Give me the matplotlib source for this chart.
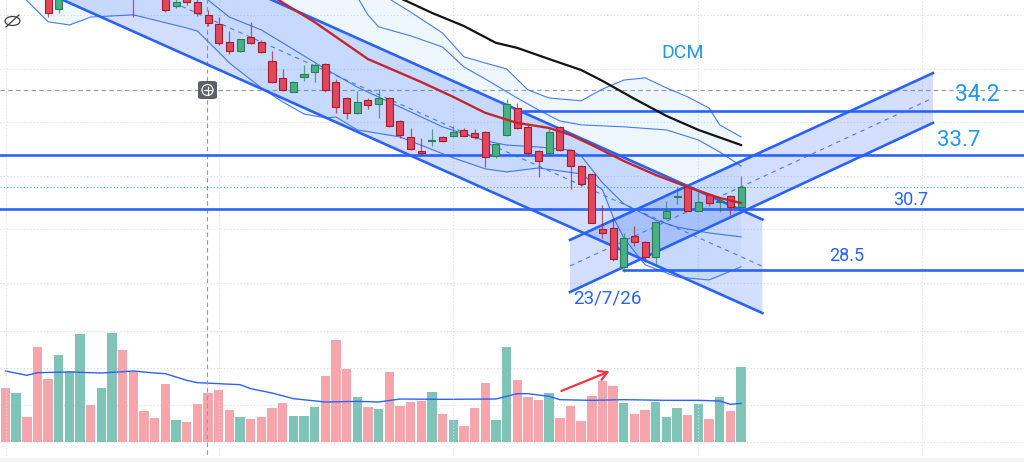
import numpy as np
import matplotlib.pyplot as plt
from matplotlib.patches import Rectangle, FancyBboxPatch, Ellipse

# --- candles (price units, one per bar) ---
opens = [39.40, 38.95, 39.30, 38.90, 38.45, 37.83, 38.30, 38.80, 39.20, 38.80,
         39.10, 39.50, 38.90, 38.40, 38.50, 38.34, 37.96, 38.23, 38.08, 37.62,
         37.29, 36.67, 36.35, 36.85, 36.67, 35.99, 35.36, 34.89, 35.40, 35.58,
         35.86, 35.22, 34.65, 34.11, 34.59, 34.44, 34.65, 33.84, 33.28, 32.74,
         33.11, 33.28, 33.31, 33.52, 33.40, 33.44, 32.59, 33.34, 34.29, 33.64,
         32.78, 32.69, 33.61, 32.80, 32.24, 31.94, 29.97, 30.01, 28.62, 29.74,
         29.51, 28.99, 30.39, 31.11, 31.49, 30.64, 31.20, 30.93, 31.16, 30.78]
highs = [39.60, 39.50, 39.50, 39.10, 38.60, 38.45, 38.90, 39.30, 39.30, 39.20,
         39.60, 39.60, 39.00, 38.50, 38.70, 38.45, 38.20, 38.30, 38.23, 37.80,
         37.54, 37.06, 36.78, 37.39, 36.73, 36.34, 35.69, 35.27, 35.84, 35.92,
         35.92, 35.34, 34.70, 34.92, 34.67, 34.97, 34.70, 33.87, 33.58, 33.22,
         33.55, 33.32, 33.66, 33.58, 33.55, 33.48, 33.04, 34.61, 34.49, 33.76,
         32.82, 33.64, 33.66, 32.84, 32.27, 31.96, 30.84, 30.37, 29.85, 30.09,
         29.56, 30.28, 30.98, 31.49, 31.55, 31.32, 31.23, 31.14, 31.20, 31.88]
lows = [38.90, 38.80, 38.70, 38.30, 37.55, 37.70, 38.20, 38.60, 38.70, 38.60,
        38.90, 38.80, 37.55, 38.20, 38.20, 37.73, 37.86, 37.99, 37.60, 37.23,
        36.55, 36.23, 36.32, 36.59, 36.27, 35.20, 34.91, 34.86, 35.27, 35.22,
        34.89, 34.13, 33.91, 34.09, 34.27, 33.94, 33.63, 33.22, 32.80, 32.63,
        32.95, 33.09, 33.26, 33.29, 33.19, 32.19, 32.51, 33.30, 33.54, 32.64,
        31.85, 32.63, 32.77, 31.40, 31.53, 30.18, 29.67, 28.85, 28.46, 29.38,
        28.81, 28.73, 30.34, 30.88, 30.61, 30.61, 30.80, 30.60, 30.48, 30.75]
closes = [39.00, 39.30, 38.80, 38.40, 37.69, 38.27, 38.80, 39.20, 38.80, 39.10,
          39.50, 38.90, 38.40, 38.25, 38.30, 37.82, 38.10, 38.09, 37.69, 37.33,
          36.64, 36.35, 36.76, 36.64, 36.31, 35.22, 34.95, 35.23, 35.51, 35.84,
          34.95, 34.33, 34.11, 34.53, 34.41, 34.65, 33.67, 33.34, 32.84, 32.71,
          33.16, 33.12, 33.44, 33.31, 33.26, 32.54, 33.01, 34.43, 33.58, 32.69,
          32.42, 33.44, 32.80, 32.24, 31.58, 30.21, 29.85, 28.90, 29.65, 29.53,
          28.99, 30.24, 30.61, 31.16, 30.64, 30.96, 30.90, 30.96, 30.78, 31.49]
volumes = [162, 146, 74, 284, 188, 260, 214, 325, 110, 161,
           327, 277, 214, 92, 71, 173, 65, 60, 113, 148,
           156, 97, 74, 69, 76, 101, 118, 78, 78, 105,
           198, 307, 218, 134, 105, 99, 209, 107, 120, 123,
           150, 85, 65, 48, 101, 177, 65, 286, 187, 136,
           126, 148, 71, 107, 62, 138, 182, 168, 117, 85,
           97, 120, 76, 101, 80, 115, 69, 136, 92, 224]

# --- indicator lines (bar index, value) ---
vol_ma_x = [0, 2, 3, 6, 9, 12, 14, 15, 17, 18, 20, 22, 23, 25, 27, 30, 33, 35,
            37, 41, 46, 48, 49, 51, 52, 55, 58, 62, 65, 67, 68, 69]
vol_ma_y = [213, 200, 208, 210, 207, 213, 207, 205, 185, 178, 175, 172, 160, 147,
            130, 120, 122, 120, 129, 128, 129, 145, 145, 137, 127, 125, 127, 125,
            125, 123, 113, 116]

ma_red_x = [25, 29, 34, 39, 42, 45, 48, 51, 53, 55, 58, 61, 64, 67, 69]
ma_red_y = [38.30, 37.37, 36.05, 35.23, 34.70, 34.13, 33.77, 33.59, 33.34, 32.98,
            32.41, 31.91, 31.48, 31.09, 30.91]
ma_black_x = [37, 40, 43, 46, 48, 51, 54, 56, 59, 62, 65, 69]
ma_black_y = [38.23, 37.70, 37.23, 36.63, 36.45, 36.05, 35.66, 35.27, 34.63, 34.02,
              33.52, 32.98]

band_a_x = [0, 20, 33, 36, 38, 41, 43, 45, 47, 49, 51, 54, 56, 58, 60, 62, 64, 66, 67, 69]
band_a_y = [40.50, 40.00, 38.90, 38.20, 37.73, 36.98, 36.13, 35.91, 35.70, 34.95,
            34.66, 34.56, 34.98, 35.30, 35.38, 35.02, 34.70, 34.30, 33.70, 33.27]
band_b_x = [33, 34, 35, 38, 41, 43, 45, 48, 50, 52, 54, 58, 62, 65, 67, 69]
band_b_y = [38.27, 37.63, 37.20, 36.88, 36.48, 35.77, 35.34, 34.66, 34.23, 33.84,
            33.70, 33.63, 33.52, 33.16, 32.73, 32.23]
band_c_x = [18, 19, 21, 24, 26, 30, 33, 37, 41, 45, 47, 50, 53, 54, 56, 58, 61, 63, 66, 69]
band_c_y = [38.34, 38.16, 37.55, 37.09, 36.63, 35.70, 35.05, 34.34, 33.63, 33.13,
            32.98, 32.91, 32.80, 32.59, 31.63, 30.88, 30.30, 30.05, 29.84, 29.70]
band_d_x = [0, 1, 4, 6, 8, 12, 17, 18, 20, 21, 24, 26, 28, 30, 31, 33, 37, 42, 45,
            47, 50, 54, 56, 57, 58, 60, 63, 66, 69]
band_d_y = [38.70, 38.52, 37.38, 37.27, 37.55, 37.63, 37.16, 37.05, 36.30, 35.91,
            35.02, 34.52, 34.09, 33.95, 33.98, 33.52, 33.27, 32.52, 32.13, 32.02,
            32.16, 31.95, 31.38, 30.41, 29.66, 28.70, 28.27, 28.16, 28.63]

# --- drawings ---
down_chan_x = [5.4, 71.0]
down_chan_low = [38.16, 26.98]
down_chan_high = [41.50, 30.32]
up_chan_x = [52.95, 87.0]
up_chan_low = [27.73, 33.77]
up_chan_high = [29.59, 35.55]

levels = [34.20, 32.62, 30.70, 28.52]
level_start = [48.45, -1.0, -1.0, 57.8]
labels = ["34.2", "33.7", "30.7", "28.5", "DCM", "23/7/26"]
label_x = [91.2, 89.4, 84.9, 78.9, 63.5, 56.5]
label_y = [34.77, 33.13, 31.02, 29.02, 36.27, 27.49]

grid_x = [0, 20, 42, 65, 86]
grid_y = [37.62, 35.71, 33.80, 31.89, 29.98, 28.07]
vol_grid = [0, 111, 222, 333]
cross_bar, cross_price = 18.9, 34.95

W, H = 1024, 462
X0, X1 = -0.516, 95.54
Y0, Y1 = 21.66, 38.16

BLUE = "#2962ff"
LIGHT = "#2196f3"

fig = plt.figure(figsize=(W / 100, H / 100), dpi=100)
fig.patch.set_facecolor("white")

# volume pane (behind)
vax = fig.add_axes([0, 0, 1, 1])
vax.set_xlim(X0, X1)
vax.set_ylim(-60, 1326)
vax.axis("off")
x = np.arange(len(opens))
o, h, l, c = map(np.array, (opens, highs, lows, closes))
up = c >= o
vcol = np.where(up, "#80c3b7", "#f5a5ab")
vax.bar(x, volumes, width=0.88, color=vcol, zorder=2)
for g in vol_grid:
    vax.axhline(g, color="#d9dbe0", lw=0.8, ls=(0, (1, 2)), zorder=1)
vax.plot(vol_ma_x, vol_ma_y, color=BLUE, lw=1.0, zorder=3)
vax.annotate("", xy=(56.9, 215), xytext=(51.9, 150),
             arrowprops=dict(arrowstyle="->,head_length=0.6,head_width=0.35",
                             color="#f23645", lw=1.6), zorder=4)

# main price pane
ax = fig.add_axes([0, 0, 1, 1])
ax.patch.set_alpha(0)
ax.set_xlim(X0, X1)
ax.set_ylim(Y0, Y1)
ax.axis("off")

for gx in grid_x:
    ax.axvline(gx, color="#dcdee3", lw=0.8, ls=(0, (1, 2)), zorder=0)
for gy in grid_y:
    ax.axhline(gy, color="#dcdee3", lw=0.8, ls=(0, (1, 2)), zorder=0)

# bollinger-style fill between outer bands
poly_x = band_a_x + band_d_x[::-1]
poly_y = band_a_y + band_d_y[::-1]
ax.fill(poly_x, poly_y, color=LIGHT, alpha=0.07, lw=0, zorder=1)

# channels
for cx, lo, hi in [(down_chan_x, down_chan_low, down_chan_high),
                   (up_chan_x, up_chan_low, up_chan_high)]:
    ax.fill([cx[0], cx[1], cx[1], cx[0]], [lo[0], lo[1], hi[1], hi[0]],
            color=BLUE, alpha=0.2, lw=0, zorder=1.5)
    ax.plot(cx, lo, color=BLUE, lw=1.9, zorder=3)
    ax.plot(cx, hi, color=BLUE, lw=1.9, zorder=3)
    mid = [(lo[0] + hi[0]) / 2, (lo[1] + hi[1]) / 2]
    ax.plot(cx, mid, color=BLUE, lw=0.8, ls=(0, (4, 4)), alpha=0.8, zorder=3)

for bx, by in [(band_a_x, band_a_y), (band_b_x, band_b_y),
               (band_c_x, band_c_y), (band_d_x, band_d_y)]:
    ax.plot(bx, by, color=BLUE, lw=0.8, alpha=0.85, zorder=2)

# horizontal levels
for lv, st in zip(levels, level_start):
    ax.hlines(lv, st, X1, color=BLUE, lw=1.9, zorder=3)

# last price and crosshair
ax.axhline(closes[-1], color="#089981", lw=0.8, ls=(0, (1, 2)), alpha=0.7, zorder=1)
ax.axhline(cross_price, color="#9598a1", lw=0.8, ls=(0, (4, 3)), zorder=1)
vax.axvline(cross_bar, color="#9598a1", lw=0.8, ls=(0, (4, 3)), zorder=5)

# moving averages
ax.plot(ma_black_x, ma_black_y, color="#131313", lw=1.6, zorder=4)

# candles
bw = 0.66
for i in range(len(x)):
    if up[i]:
        face, edge = "#4caf84", "#23824f"
    else:
        face, edge = "#e2485b", "#a51d2c"
    ax.vlines(x[i], l[i], h[i], color=edge, lw=0.9, alpha=0.7, zorder=5)
    bot = min(o[i], c[i])
    hgt = max(abs(c[i] - o[i]), 0.04)
    ax.add_patch(Rectangle((x[i] - bw / 2, bot), bw, hgt, facecolor=face,
                           edgecolor=edge, lw=0.8, zorder=6))

ax.plot(ma_red_x, ma_red_y, color="#c4262e", lw=1.7, zorder=7)

# text labels
sizes = [16.5, 16, 13, 13, 14, 13.5]
colors = [LIGHT, LIGHT, BLUE, BLUE, LIGHT, BLUE]
for t, tx, ty, s, col in zip(labels, label_x, label_y, sizes, colors):
    ax.text(tx, ty, t, fontsize=s, color=col, family="Roboto",
            ha="center", va="center", zorder=8)


# small UI icons
def px(xp, yp):
    return xp / W, 1 - yp / H


fig.patches.append(FancyBboxPatch(px(198, 99), 19 / W, 18 / H,
                                  boxstyle="round,pad=0,rounding_size=0.004",
                                  transform=fig.transFigure, facecolor="#5d606b",
                                  edgecolor="none", zorder=10))
fig.patches.append(Ellipse(px(207.5, 90), 11 / W, 11 / H, transform=fig.transFigure,
                           facecolor="none", edgecolor="white", lw=0.9, zorder=11))
fig.lines.append(plt.Line2D([px(204, 90)[0], px(211, 90)[0]], [px(204, 90)[1]] * 2,
                            transform=fig.transFigure, color="white", lw=0.9, zorder=11))
fig.lines.append(plt.Line2D([px(207.5, 86.5)[0]] * 2, [px(207.5, 86.5)[1], px(207.5, 93.5)[1]],
                            transform=fig.transFigure, color="white", lw=0.9, zorder=11))
fig.patches.append(Ellipse(px(12.5, 21), 15 / W, 9 / H, transform=fig.transFigure,
                           facecolor="none", edgecolor="#3b3e45", lw=0.9, zorder=11))
fig.lines.append(plt.Line2D([px(6, 27)[0], px(19, 15)[0]], [px(6, 27)[1], px(19, 15)[1]],
                            transform=fig.transFigure, color="#3b3e45", lw=0.9, zorder=11))

fig.patches.append(Rectangle(px(0, 462), 1, 4 / H, transform=fig.transFigure,
                             facecolor="#f2f3f5", edgecolor="none", zorder=0))

fig.savefig("out.png", dpi=100)
